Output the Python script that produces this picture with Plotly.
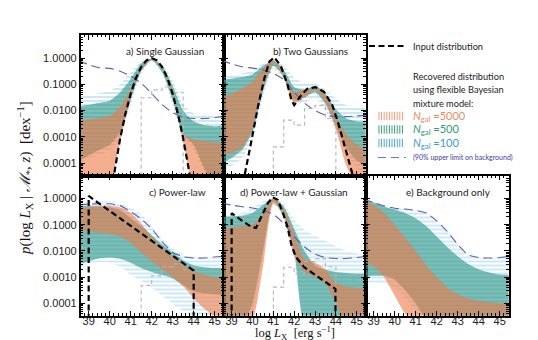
import plotly.graph_objects as go

# ---- data (all y values are log10 of p) ----
X_GRID = [38.5, 39.0, 39.5, 40.0, 40.5, 41.0, 41.5, 42.0, 42.5, 43.0, 43.5, 44.0, 44.5, 45.0, 45.5]

# a) Single Gaussian
A_BLUE_HI = [-1.45, -1.40, -1.33, -1.25, -1.00, -0.55, -0.12, 0.00, -0.22, -0.85, -1.75, -2.10, -2.18, -2.15, -2.10]
A_BLUE_LO = [-4.0, -3.8, -3.7, -3.5, -3.0, -1.8, -0.6, -0.1, -0.55, -1.8, -3.0, -3.5, -4.3, -4.8, -4.8]
A_TEAL_HI = [-1.85, -1.78, -1.70, -1.62, -1.30, -0.80, -0.20, -0.02, -0.30, -1.05, -2.00, -2.40, -2.55, -2.60, -2.60]
A_TEAL_LO = [-3.95, -3.70, -3.50, -3.30, -2.80, -1.60, -0.50, -0.08, -0.55, -1.60, -2.90, -3.30, -4.20, -4.8, -4.8]
A_ORNG_HI = [-2.38, -2.33, -2.28, -2.20, -1.85, -1.20, -0.35, 0.00, -0.30, -1.25, -2.90, -3.10, -3.15, -3.20, -3.25]
A_ORNG_LO = [-4.8, -4.8, -4.8, -4.7, -3.2, -1.5, -0.45, -0.05, -0.40, -1.45, -3.20, -4.8, -4.8, -4.8, -4.8]
A_BKG = [-0.10, -0.25, -0.37, -0.39, -0.50, -0.68, -0.95, -1.35, -1.77, -2.08, -2.25, -2.30, -2.30, -2.27, -2.20]
A_INPUT_X = [40.0, 40.25, 40.5, 40.75, 41.0, 41.25, 41.5, 41.75, 42.0, 42.25, 42.5, 42.75, 43.0, 43.25, 43.5, 43.75, 44.0]
A_INPUT = [-5.43, -4.16, -3.05, -2.12, -1.36, -0.76, -0.34, -0.085, 0.0, -0.085, -0.34, -0.76, -1.36, -2.12, -3.05, -4.16, -5.43]
A_HIST_X = [41.5, 41.5, 42.0, 42.5, 43.0, 43.5, 43.5]
A_HIST = [-5, -1.51, -1.21, -1.10, -1.30, -1.30, -5]

# b) Two Gaussians
B_BLUE_HI = [-0.70, -0.65, -0.58, -0.48, -0.20, -0.04, -0.30, -0.75, -0.95, -0.96, -1.20, -1.55, -1.80, -1.88, -1.93]
B_BLUE_LO = [-4.3, -4.1, -3.8, -3.0, -1.5, -0.4, -0.8, -1.75, -1.7, -1.5, -2.0, -2.8, -3.6, -4.2, -4.4]
B_TEAL_HI = [-0.83, -0.78, -0.72, -0.62, -0.30, -0.10, -0.45, -1.10, -1.20, -1.05, -1.35, -1.95, -2.30, -2.40, -2.45]
B_TEAL_LO = [-4.0, -3.8, -3.5, -2.8, -1.3, -0.3, -0.7, -1.6, -1.5, -1.3, -1.75, -2.6, -3.4, -3.9, -4.1]
B_ORNG_HI = [-1.47, -1.35, -1.15, -0.90, -0.40, -0.08, -0.60, -1.30, -1.20, -1.10, -1.40, -2.20, -2.90, -3.30, -3.55]
B_ORNG_LO = [-3.7, -3.6, -3.4, -2.7, -1.2, -0.2, -0.75, -1.7, -1.5, -1.2, -1.7, -2.7, -4.1, -4.8, -4.8]
B_BKG = [-0.08, -0.22, -0.33, -0.38, -0.45, -0.58, -0.82, -1.30, -1.72, -2.00, -2.17, -2.23, -2.23, -2.20, -2.17]
B_INPUT_X = [39.5, 39.62, 39.94, 40.25, 40.57, 40.81, 41.05, 41.37, 41.68, 41.87, 42.0, 42.32, 42.63,
             43.03, 43.43, 43.83, 44.14, 44.46, 44.86, 45.0]
B_INPUT = [-5.5, -4.47, -3.19, -1.9, -0.77, -0.13, 0.03, -0.32, -1.02, -1.6, -1.79, -1.43, -1.17,
           -1.11, -1.28, -1.79, -2.55, -3.45, -4.47, -5.0]
B_HIST_X = [41.0, 41.0, 41.5, 42.0, 42.5, 43.0, 43.5, 44.0, 44.0]
B_HIST = [-5, -3.38, -2.36, -2.55, -1.92, -1.80, -2.30, -2.30, -5]

# c) Power-law
C_BLUE_HI = [-0.25, -0.18, -0.12, -0.12, -0.20, -0.35, -0.60, -1.05, -1.55, -1.90, -2.12, -2.23, -2.27, -2.27, -2.25]
C_BLUE_LO = [-2.65, -2.5, -2.42, -2.45, -2.6, -2.9, -3.15, -3.4, -3.7, -4.0, -4.3, -4.45, -4.5, -4.55, -4.6]
C_TEAL_HI = [-0.28, -0.28, -0.30, -0.33, -0.45, -0.75, -1.05, -1.40, -1.75, -2.05, -2.35, -2.55, -2.62, -2.65, -2.68]
C_TEAL_LO = [-2.5, -2.4, -2.28, -2.25, -2.3, -2.45, -2.65, -2.8, -2.92, -3.05, -3.3, -3.55, -3.62, -3.65, -3.65]
C_ORNG_HI = [-0.37, -0.32, -0.28, -0.28, -0.33, -0.55, -0.95, -1.45, -1.85, -2.20, -2.50, -2.75, -2.90, -3.00, -3.05]
C_ORNG_LO = [-1.2, -1.25, -1.32, -1.35, -1.45, -1.7, -2.05, -2.4, -2.7, -3.0, -3.35, -3.8, -4.2, -4.5, -4.7]
C_BKG = [-0.24, -0.21, -0.20, -0.20, -0.27, -0.50, -0.78, -1.15, -1.65, -2.05, -2.22, -2.27, -2.27, -2.23, -2.20]
C_INPUT_X = [39.0, 39.0, 40.0, 41.0, 42.0, 43.0, 44.0, 44.0]
C_INPUT = [-5, 0.1, -0.47, -1.04, -1.61, -2.18, -2.75, -5]
C_HIST_X = [41.5, 41.5, 42.0, 42.5, 43.0, 43.5, 44.0, 44.0]
C_HIST = [-5, -3.32, -2.95, -2.60, -2.50, -2.70, -2.70, -5]

# d) Power-law + Gaussian
D_BLUE_HI = [-0.63, -0.62, -0.55, -0.35, -0.10, 0.04, -0.20, -0.80, -1.20, -1.42, -1.62, -1.82, -2.00, -2.10, -2.17]
D_BLUE_LO = [-4.8, -4.8, -4.8, -4.3, -2.2, -0.15, -0.8, -2.3, -4.8, -4.8, -4.8, -4.8, -4.8, -4.8, -4.8]
D_TEAL_HI = [-0.69, -0.68, -0.65, -0.55, -0.25, 0.00, -0.30, -1.15, -2.00, -2.55, -2.72, -2.80, -2.84, -2.87, -2.90]
D_TEAL_LO = [-4.8, -4.8, -4.8, -4.0, -2.0, -0.1, -0.7, -2.0, -4.8, -4.8, -4.8, -4.8, -4.8, -4.8, -4.8]
D_ORNG_HI = [-1.15, -1.10, -1.05, -1.00, -0.60, 0.00, -0.40, -1.35, -2.30, -2.45, -2.70, -3.20, -3.35, -3.42, -3.45]
D_ORNG_LO = [-4.8, -4.8, -4.8, -4.6, -2.6, -0.2, -0.6, -2.2, -2.8, -3.0, -3.25, -4.0, -4.8, -4.8, -4.8]
D_BKG = [-0.18, -0.25, -0.31, -0.36, -0.45, -0.60, -0.95, -1.45, -1.85, -2.12, -2.25, -2.29, -2.29, -2.25, -2.20]
D_INPUT_X = [39.0, 39.0, 39.46, 39.94, 40.17, 40.41, 40.73, 40.97, 41.21, 41.44, 41.68, 41.87, 42.08,
             42.48, 42.95, 43.43, 43.98, 43.98]
D_INPUT = [-5, -0.56, -0.82, -1.08, -1.12, -0.69, -0.18, 0.05, -0.05, -0.5, -1.08, -1.78, -2.23,
           -2.62, -2.87, -3.13, -3.45, -5]
D_HIST_X = [41.0, 41.0, 41.5, 42.0, 42.5, 43.0, 43.5, 44.0, 44.0]
D_HIST = [-5, -3.38, -2.62, -2.87, -2.40, -2.30, -2.60, -2.60, -5]

# e) Background only
E_BLUE_HI = [-0.03, -0.15, -0.28, -0.37, -0.40, -0.45, -0.55, -0.85, -1.25, -1.75, -2.15, -2.25, -2.27, -2.25, -2.20]
E_BLUE_LO = [-3.3, -3.2, -3.25, -3.4, -3.8, -4.3, -4.8, -4.8, -4.8, -4.8, -4.8, -4.8, -4.8, -4.8, -4.8]
E_TEAL_HI = [-0.05, -0.15, -0.30, -0.42, -0.55, -0.75, -1.05, -1.45, -1.85, -2.20, -2.50, -2.70, -2.82, -2.90, -2.95]
E_TEAL_LO = [-3.0, -2.95, -2.95, -3.1, -3.5, -4.0, -4.6, -4.8, -4.8, -4.8, -4.8, -4.8, -4.8, -4.8, -4.8]
E_ORNG_HI = [-0.05, -0.25, -0.55, -1.00, -1.50, -2.00, -2.55, -3.00, -3.40, -3.65, -3.80, -3.90, -3.95, -4.00, -4.00]
E_ORNG_LO = [-2.4, -2.6, -3.0, -3.7, -4.4, -4.8, -4.8, -4.8, -4.8, -4.8, -4.8, -4.8, -4.8, -4.8, -4.8]
E_BKG = E_BLUE_HI

PANEL_LABELS = ["a) Single Gaussian", "b) Two Gaussians", "c) Power-law",
                "d) Power-law + Gaussian", "e) Background only"]
X_TICKS = [39, 40, 41, 42, 43, 44, 45]
Y_TICKS = [1.0, 0.1, 0.01, 0.001, 0.0001]
Y_TICKTEXT = ["1.0000", "0.1000", "0.0100", "0.0010", "0.0001"]

panels = [
    dict(blue=(A_BLUE_LO, A_BLUE_HI), teal=(A_TEAL_LO, A_TEAL_HI), orng=(A_ORNG_LO, A_ORNG_HI),
         bkg=A_BKG, inp=(A_INPUT_X, A_INPUT), hist=(A_HIST_X, A_HIST)),
    dict(blue=(B_BLUE_LO, B_BLUE_HI), teal=(B_TEAL_LO, B_TEAL_HI), orng=(B_ORNG_LO, B_ORNG_HI),
         bkg=B_BKG, inp=(B_INPUT_X, B_INPUT), hist=(B_HIST_X, B_HIST)),
    dict(blue=(C_BLUE_LO, C_BLUE_HI), teal=(C_TEAL_LO, C_TEAL_HI), orng=(C_ORNG_LO, C_ORNG_HI),
         bkg=C_BKG, inp=(C_INPUT_X, C_INPUT), hist=(C_HIST_X, C_HIST)),
    dict(blue=(D_BLUE_LO, D_BLUE_HI), teal=(D_TEAL_LO, D_TEAL_HI), orng=(D_ORNG_LO, D_ORNG_HI),
         bkg=D_BKG, inp=(D_INPUT_X, D_INPUT), hist=(D_HIST_X, D_HIST)),
    dict(blue=(E_BLUE_LO, E_BLUE_HI), teal=(E_TEAL_LO, E_TEAL_HI), orng=(E_ORNG_LO, E_ORNG_HI),
         bkg=E_BKG, inp=None, hist=None),
]

# ---- layout geometry (pixels) ----
W, H = 538, 340
# left, right, top, bottom of each panel
BOXES = [(72.7, 215.7, 27, 167.5), (215.7, 357.7, 27, 167.5),
         (72.7, 215.7, 167.5, 307.7), (215.7, 357.7, 167.5, 307.7), (357.7, 500.7, 167.5, 307.7)]
XRANGE = [38.62, 45.43]
YRANGE = [-4.47, 0.88]

def lin(v):
    return [10 ** a for a in v]

def band(lo, hi):
    # closed outline: upper edge left->right, lower edge right->left
    return X_GRID + X_GRID[::-1], lin(hi) + lin(lo)[::-1]

fig = go.Figure()
SPL = dict(width=0, shape="spline", smoothing=0.6)

for k, p in enumerate(panels, start=1):
    xa = "x" if k == 1 else f"x{k}"
    ya = "y" if k == 1 else f"y{k}"
    common = dict(xaxis=xa, yaxis=ya, hoverinfo="skip", showlegend=False)
    # N=100 : blue horizontal hatching
    bx, by = band(*p["blue"])
    fig.add_trace(go.Scatter(x=bx, y=by, mode="lines", fill="toself", fillcolor="rgba(0,0,0,0)",
                             fillpattern=dict(shape="-", fgcolor="#8fcdee", bgcolor="rgba(255,255,255,0)",
                                              size=4, solidity=0.45),
                             line=SPL, **common))
    # N=500 : teal
    bx, by = band(*p["teal"])
    fig.add_trace(go.Scatter(x=bx, y=by, mode="lines", fill="toself", fillcolor="rgba(45,150,135,0.62)",
                             line=SPL, **common))
    # N=5000 : orange
    bx, by = band(*p["orng"])
    fig.add_trace(go.Scatter(x=bx, y=by, mode="lines", fill="toself", fillcolor="rgba(240,120,70,0.6)",
                             line=SPL, **common))
    # 90% upper limit on background
    fig.add_trace(go.Scatter(x=X_GRID, y=lin(p["bkg"]), mode="lines",
                             line=dict(color="#5d5fb8", width=1.1, dash="9px,5px", shape="spline", smoothing=0.6),
                             **common))
    if p["hist"]:
        hx, hy = p["hist"]
        fig.add_trace(go.Scatter(x=hx, y=lin(hy), mode="lines",
                                 line=dict(color="#b5b5b5", width=1.1, dash="4px,3px", shape="hv"), **common))
    if p["inp"]:
        ix, iy = p["inp"]
        fig.add_trace(go.Scatter(x=ix, y=lin(iy), mode="lines",
                                 line=dict(color="black", width=2.2, dash="6px,3.5px"), **common))

minor_y = [m * 10 ** e for e in range(-5, 1) for m in range(2, 10)]
tick_font = dict(family="Liberation Sans, Arial", size=11, color="#222")

for k, (l, r, t, b) in enumerate(BOXES, start=1):
    xkey = "xaxis" if k == 1 else f"xaxis{k}"
    ykey = "yaxis" if k == 1 else f"yaxis{k}"
    xa = "x" if k == 1 else f"x{k}"
    ya = "y" if k == 1 else f"y{k}"
    fig.update_layout({
        xkey: dict(domain=[l / W, r / W], range=XRANGE, anchor=ya, showgrid=False, zeroline=False,
                   showline=True, linecolor="black", linewidth=1.5, mirror="allticks",
                   ticks="inside", ticklen=5, tickwidth=1, tickcolor="black",
                   tickvals=X_TICKS, showticklabels=k >= 3, tickfont=tick_font, ticklabelstandoff=-6,
                   minor=dict(ticks="inside", ticklen=2.5, dtick=0.2, tickcolor="black", showgrid=False)),
        ykey: dict(domain=[1 - b / H, 1 - t / H], type="log", range=YRANGE, anchor=xa, showgrid=False,
                   zeroline=False, showline=True, linecolor="black", linewidth=1.5, mirror="allticks",
                   ticks="inside", ticklen=5, tickwidth=1, tickcolor="black",
                   tickvals=Y_TICKS, ticktext=Y_TICKTEXT, showticklabels=k in (1, 3), tickfont=tick_font,
                   minor=dict(ticks="inside", ticklen=2.5, tickvals=minor_y, tickcolor="black", showgrid=False)),
    })

# overlay axis in pixel units for the legend and texts
fig.update_layout(
    xaxis6=dict(domain=[0, 1], range=[0, W], visible=False, anchor="y6", fixedrange=True),
    yaxis6=dict(domain=[0, 1], range=[H, 0], visible=False, anchor="x6", fixedrange=True),
)
ov = dict(xaxis="x6", yaxis="y6", hoverinfo="skip", showlegend=False)

fig.add_trace(go.Scatter(x=[361, 399], y=[38, 38], mode="lines",
                         line=dict(color="black", width=2.2, dash="6px,3.5px"), **ov))
sw_x = [371 + 2.6 * i for i in range(10)]
for yy, col in [(108, "#f39a74"), (121.5, "#3a9c78"), (135, "#4aa3dc")]:
    fig.add_trace(go.Scatter(x=sw_x, y=[yy] * len(sw_x), mode="markers",
                             marker=dict(symbol="line-ns", size=6, line=dict(width=1, color=col)), **ov))
fig.add_trace(go.Scatter(x=[370, 398], y=[149.5, 149.5], mode="lines",
                         line=dict(color="#7072c8", width=1.1, dash="8px,5px"), **ov))

ann = []
def txt(x, y, s, size=11, color="#222", family="Lato", anchor="left", angle=0, yanchor="middle"):
    ann.append(dict(x=x, y=y, xref="x6", yref="y6", text=s, showarrow=False, xanchor=anchor,
                    yanchor=yanchor, textangle=angle, font=dict(family=family, size=size, color=color)))

txt(403, 38, "Input distribution", 9.2)
txt(403, 68, "Recovered distribution", 9.2)
txt(403, 81.5, "using flexible Bayesian", 9.2)
txt(403, 95, "mixture model:", 9.2)
txt(403, 108, "<i>N</i><sub>gal</sub> =5000", 11, "#f08a5f")
txt(403, 121.5, "<i>N</i><sub>gal</sub> =500", 11, "#2f9a73")
txt(403, 135, "<i>N</i><sub>gal</sub> =100", 11, "#3b9ad8")
txt(403, 149.5, "(90% upper limit on background)", 7, "#3a3aa0")

label_pos = [(198, 43), (342, 43), (200, 184), (342, 184), (485, 184)]
for (lx, ly), s in zip(label_pos, PANEL_LABELS):
    txt(lx, ly, s, 10, "#222", anchor="right")

txt(287, 336, "log <i>L</i><sub>X</sub>  [erg s<sup>−1</sup>]", 12.5, "#111", "Liberation Serif",
    anchor="center", yanchor="bottom")
txt(17, 170, "<i>p</i>(log <i>L</i><sub>X</sub> | <i>ℳ</i><sub>*</sub>, <i>z</i>)  [dex<sup>−1</sup>]",
    15, "#111", "Liberation Serif", anchor="center", angle=-90)

fig.update_layout(width=W, height=H, margin=dict(l=0, r=0, t=0, b=0),
                  paper_bgcolor="white", plot_bgcolor="rgba(0,0,0,0)",
                  showlegend=False, annotations=ann)

fig.write_html("out.html")
